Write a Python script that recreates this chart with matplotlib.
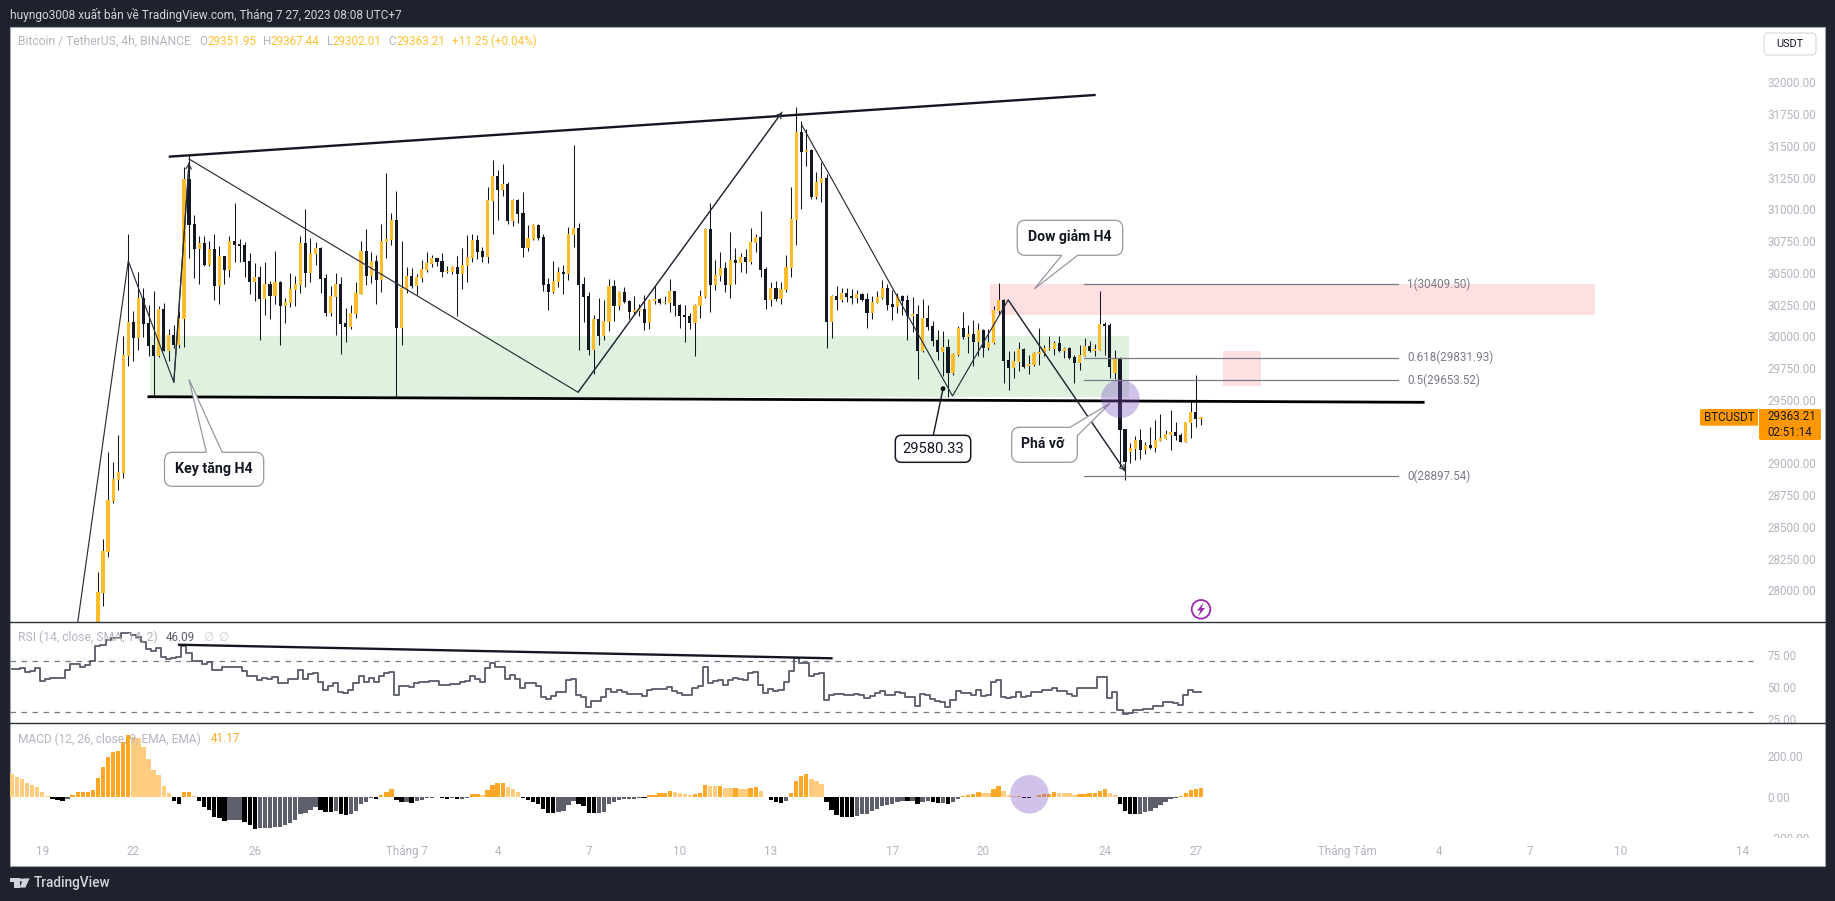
import matplotlib
matplotlib.use('Agg')
import matplotlib.pyplot as plt
import numpy as np
from matplotlib.patches import Circle, PathPatch, Polygon, Rectangle
from matplotlib.path import Path
from matplotlib.transforms import Affine2D, Bbox

plt.rcParams['font.family'] = ['Roboto', 'Noto Sans', 'DejaVu Sans']

W, H = 1835, 901

# candles, first visible one is bar 11 (bar 0 = 19 Jun 03:00 UTC+7)
first_bar = 11
bar_open = [
    27600, 27981, 28304, 28703, 28868, 28921, 29847, 30112, 29989, 30301,
    30104, 29931, 29847, 30215, 29884, 30010, 29931, 30136, 31238, 30884,
    30687, 30734, 30561, 30687, 30396, 30632, 30522, 30750, 30727, 30719,
    30593, 30427, 30467, 30293, 30412, 30317, 30427, 30238, 30262, 30364,
    30404, 30734, 30498, 30648, 30695, 30459, 30183, 30309, 30412, 30104,
    30073, 30175, 30333, 30671, 30475, 30593, 30443, 30742, 30758, 30916,
    30065, 30372, 30475, 30396, 30459, 30522, 30569, 30616, 30593, 30506,
    30506, 30545, 30490, 30553, 30616, 30758, 30671, 30624, 31065, 31262,
    31152, 31199, 30908, 31073, 30971, 30695, 30766, 30876, 30782, 30412,
    30349, 30427, 30506, 30490, 30797, 30852, 30412, 30317, 29892, 30136,
    30002, 30112, 30396, 30238, 30349, 30278, 30191, 30199, 30215, 30104,
    30278, 30293, 30262, 30262, 30356, 30246, 30167, 30159, 30107, 30238,
    30309, 30845, 30404, 30474, 30537, 30404, 30600, 30577, 30624, 30585,
    30734, 30782, 30530, 30286, 30380, 30293, 30364, 30537, 30916, 31608,
    31451, 31467, 31097, 31207, 31246, 30112, 30317, 30286, 30341, 30317,
    30301, 30333, 30293, 30183, 30262, 30301, 30380, 30254, 30230, 30317,
    30286, 30159, 30175, 29884, 30144, 30081, 29971, 29876, 29915, 29711,
    29853, 30065, 29994, 30018, 29955, 30049, 29908, 29947, 30199, 30286,
    29813, 29750, 29797, 29900, 29766, 29774, 29860, 29868, 29900, 29900,
    29947, 29884, 29908, 29837, 29790, 29845, 29923, 29884, 29892, 30097,
    30089, 29711, 29829, 29270, 29089, 29112, 29183, 29104, 29144, 29120,
    29175, 29191, 29223, 29246, 29223, 29167, 29317, 29404, 29352]
bar_high = [
    28146, 28404, 29089, 29007, 29223, 30005, 30805, 30199, 30506, 30377,
    30246, 30356, 30238, 30259, 30057, 30089, 30199, 31330, 31427, 30955,
    30790, 30790, 30750, 30805, 30711, 30632, 30790, 31049, 30766, 30742,
    30656, 30577, 30553, 30585, 30435, 30671, 30435, 30301, 30498, 30475,
    30790, 31002, 30774, 30742, 30703, 30490, 30396, 30498, 30467, 30223,
    30246, 30427, 30750, 30845, 30663, 30640, 30884, 31286, 30971, 31144,
    30750, 30545, 30538, 30490, 30601, 30663, 30640, 30616, 30656, 30553,
    30553, 30632, 30695, 30797, 30805, 30797, 30703, 31175, 31388, 31309,
    31357, 31215, 31081, 31081, 31136, 30876, 30884, 30884, 30805, 30459,
    30593, 30545, 30561, 30860, 31506, 30892, 30467, 30349, 30167, 30301,
    30286, 30451, 30443, 30356, 30388, 30286, 30317, 30254, 30325, 30293,
    30404, 30301, 30317, 30451, 30356, 30254, 30246, 30180, 30254, 30364,
    30850, 31049, 30600, 30663, 30585, 30821, 30695, 30656, 30687, 30852,
    30805, 30986, 30545, 30427, 30435, 30427, 30640, 31175, 31805, 31695,
    31632, 31475, 31293, 31372, 31278, 30325, 30396, 30380, 30380, 30372,
    30364, 30341, 30341, 30317, 30356, 30443, 30411, 30364, 30341, 30325,
    30325, 30309, 30246, 30293, 30246, 30120, 30049, 30041, 29976, 29866,
    30084, 30191, 30089, 30128, 30104, 30057, 30057, 30238, 30417, 30291,
    29884, 29884, 29955, 29908, 29853, 29876, 30065, 29931, 30002, 29963,
    30002, 29913, 29916, 29853, 29931, 29986, 29963, 29939, 30357, 30115,
    30104, 29892, 29834, 29270, 29159, 29215, 29270, 29167, 29285, 29341,
    29388, 29262, 29419, 29325, 29236, 29325, 29498, 29695, 29367]
bar_low = [
    27500, 27878, 28264, 28690, 28789, 28881, 29766, 29808, 29892, 29997,
    29847, 29524, 29834, 29884, 29808, 29905, 29905, 29918, 30619, 30459,
    30412, 30553, 30553, 30286, 30254, 30412, 30467, 30585, 30585, 30467,
    30333, 30278, 29971, 30167, 30136, 30254, 29931, 30104, 30230, 30238,
    30341, 30388, 30427, 30561, 30341, 30159, 30159, 30010, 29860, 29955,
    30057, 30144, 30333, 30404, 30422, 30254, 30348, 30616, 30719, 29511,
    29931, 30341, 30380, 30325, 30427, 30506, 30545, 30553, 30467, 30498,
    30490, 30159, 30372, 30427, 30585, 30608, 30585, 30577, 30805, 30916,
    31105, 30884, 30868, 30892, 30624, 30671, 30758, 30758, 30356, 30207,
    30341, 30388, 30333, 30443, 30703, 29892, 30112, 29852, 29703, 29931,
    29971, 30041, 30120, 30207, 30262, 30136, 30167, 30159, 30049, 30057,
    30254, 30254, 30254, 30191, 30159, 30065, 29955, 30054, 29842, 30144,
    30304, 30191, 30364, 30435, 30348, 30301, 30412, 30506, 30498, 30569,
    30664, 30467, 30215, 30238, 30278, 30254, 30348, 30467, 30719, 31002,
    31341, 31081, 31081, 31057, 29908, 29986, 30207, 30270, 30270, 30254,
    30262, 30278, 30065, 30136, 30259, 30293, 30207, 30128, 30183, 30167,
    29970, 30033, 29663, 29879, 30049, 29923, 29813, 29687, 29519, 29695,
    29845, 29978, 29868, 29766, 29845, 29837, 29892, 29939, 30167, 29632,
    29577, 29671, 29727, 29750, 29703, 29766, 29774, 29845, 29892, 29853,
    29876, 29829, 29821, 29632, 29734, 29845, 29879, 29845, 29892, 29853,
    29671, 29664, 28973, 28868, 29002, 29026, 29034, 29073, 29112, 29089,
    29175, 29191, 29104, 29183, 29167, 29167, 29199, 29285, 29302]
bar_close = [
    27989, 28312, 28711, 28876, 28931, 29853, 30112, 29989, 30301, 30099,
    29923, 29847, 30215, 29884, 30010, 29931, 30144, 31238, 30876, 30687,
    30734, 30561, 30687, 30396, 30632, 30522, 30750, 30719, 30711, 30585,
    30427, 30467, 30293, 30412, 30317, 30427, 30238, 30270, 30372, 30412,
    30734, 30498, 30656, 30695, 30451, 30183, 30317, 30412, 30096, 30073,
    30183, 30341, 30671, 30475, 30593, 30443, 30750, 30766, 30916, 30065,
    30380, 30475, 30396, 30467, 30530, 30577, 30616, 30585, 30506, 30514,
    30545, 30490, 30561, 30624, 30758, 30664, 30624, 31073, 31262, 31152,
    31199, 30908, 31073, 30963, 30695, 30774, 30876, 30774, 30404, 30349,
    30435, 30506, 30490, 30805, 30852, 30404, 30309, 29892, 30136, 30002,
    30120, 30396, 30238, 30349, 30270, 30191, 30207, 30215, 30104, 30286,
    30293, 30262, 30270, 30356, 30238, 30159, 30152, 30107, 30246, 30317,
    30845, 30404, 30482, 30537, 30404, 30600, 30577, 30624, 30585, 30742,
    30782, 30522, 30286, 30380, 30293, 30372, 30545, 30923, 31608, 31451,
    31467, 31097, 31215, 31246, 30112, 30317, 30286, 30341, 30309, 30301,
    30333, 30286, 30183, 30270, 30309, 30380, 30246, 30230, 30317, 30278,
    30159, 30175, 29884, 30144, 30073, 29963, 29876, 29915, 29713, 29860,
    30065, 29994, 30018, 29955, 30049, 29908, 29955, 30207, 30286, 29805,
    29750, 29805, 29900, 29758, 29782, 29868, 29876, 29908, 29908, 29947,
    29884, 29908, 29829, 29790, 29853, 29923, 29884, 29900, 30097, 30081,
    29758, 29829, 29262, 29010, 29120, 29183, 29104, 29144, 29120, 29183,
    29199, 29230, 29246, 29215, 29167, 29325, 29404, 29349, 29363]

# indicators start at bar -6, left edge of the chart
first_ind = -6
rsi_values = [
    63.8, 63.8, 64.5, 61.7, 62.5, 64.8, 54.7, 56.2, 56.8, 56.8, 56.8, 63.0,
    67.4, 67.9, 65.6, 66.9, 70.2, 81.6, 82.6, 86.3, 87.6, 87.6, 91.5, 92.0,
    90.2, 88.9, 85.0, 79.0, 78.0, 80.3, 72.8, 71.8, 72.0, 72.8, 81.6, 75.9,
    70.2, 70.2, 67.4, 69.4, 63.0, 63.0, 65.6, 65.0, 65.0, 65.0, 62.2, 58.6,
    58.6, 55.2, 56.5, 55.7, 57.3, 53.1, 53.1, 55.7, 55.7, 63.0, 56.0, 59.6,
    60.4, 53.9, 47.5, 50.8, 53.1, 46.2, 45.4, 47.5, 52.6, 58.6, 53.9, 57.0,
    53.4, 58.3, 60.4, 61.7, 43.6, 50.6, 50.6, 50.0, 52.6, 53.4, 53.4, 54.2,
    54.2, 51.3, 51.3, 52.1, 52.1, 53.9, 54.4, 58.3, 55.7, 53.9, 64.3, 68.7,
    65.0, 65.0, 56.0, 59.1, 55.7, 49.3, 52.6, 52.6, 50.8, 42.3, 40.5, 42.8,
    45.6, 45.6, 55.2, 55.7, 43.6, 41.8, 34.5, 38.9, 38.9, 41.8, 48.2, 45.6,
    47.5, 46.2, 44.3, 44.3, 44.3, 42.8, 47.5, 48.5, 48.0, 48.0, 49.8, 46.9,
    44.9, 43.3, 43.3, 48.7, 50.8, 65.6, 52.6, 54.4, 55.2, 51.3, 55.2, 56.5,
    55.7, 55.2, 60.4, 61.2, 51.3, 45.4, 48.0, 46.7, 47.5, 53.9, 62.5, 72.0,
    68.2, 68.2, 58.3, 59.9, 60.9, 39.7, 43.6, 44.1, 44.3, 43.6, 43.6, 44.3,
    43.6, 41.5, 43.1, 45.4, 46.9, 43.6, 43.6, 46.2, 45.4, 42.3, 42.3, 35.0,
    44.3, 43.6, 40.2, 38.9, 38.4, 34.5, 39.7, 46.9, 45.4, 45.4, 43.6, 47.5,
    42.8, 43.6, 53.9, 55.2, 41.8, 41.5, 42.3, 46.2, 42.3, 42.8, 46.2, 46.2,
    47.5, 47.5, 48.7, 46.9, 46.9, 44.3, 42.8, 48.7, 48.7, 48.7, 48.7, 57.8,
    57.3, 41.0, 46.2, 31.9, 28.8, 29.9, 31.9, 31.9, 32.7, 32.7, 35.0, 35.0,
    38.1, 38.1, 37.1, 35.8, 43.6, 47.5, 46.2, 46.09]
macd_hist = [
    110.8, 97.8, 86.4, 68.5, 55.4, 47.3, 24.5, 4.9, -11.4, -16.3, -21.2,
    -11.4, 8.2, 22.8, 23.0, 23.5, 32.6, 91.3, 145, 194, 220, 225, 266, 302,
    290, 285, 243, 184, 130, 106, 52, 18, -21, -36, 23, 24, 5, -21, -51, -65,
    -99, -104, -119, -114, -113, -112, -124, -139, -158, -153, -152, -151,
    -147, -146, -139, -127, -114, -86, -78, -64, -52, -65, -75, -76, -70, -85,
    -90, -85, -68, -36, -26, -8, -10, 11, 21, 37.5, -18, -26, -25, -31, -23,
    -18, -8, -5, -3, -5, -10, -8, -11, -10, -5, 13, 14, 8, 33, 57, 67, 68, 47,
    37, 21, -5, -16, -26, -33, -60, -80, -81, -75, -70, -41, -21, -36, -46,
    -80, -81, -80, -75, -36, -24, -16, -11, -10, -9, -6, -7, 6.5, 11, 18, 19,
    28, 23, 18, 13, 8, 13, 18, 57, 53, 52, 53, 42, 41, 41, 40, 38, 42, 47, 28,
    -2, -16, -26, -31, -21, 18, 77, 101, 111, 86, 77, 62, -26, -65, -90, -99,
    -100, -101, -95, -85, -84, -70, -60, -46, -41, -36, -26, -21, -22, -21,
    -36, -26, -21, -26, -31, -30, -36, -26, -11, 3, 8, 13, 23, 18, 17, 37, 52,
    28, 8, 3, 5, -7, -8, -2, 8, 13, 14, 23, 18, 17, 16, 8, 13, 14, 18, 19, 28,
    37, 18, 8, -36, -70, -85, -86, -84, -75, -70, -55, -41, -26, -11, -6, 5,
    18, 33, 37, 41.17]

# time axis, tick at the first bar of the day
date_bars = [0, 18, 42, 72, 90, 108, 126, 144, 168, 186, 210, 228,
             258, 276, 294, 312, 336]
date_labels = ['19', '22', '26', 'Tháng 7', '4', '7', '10', '13', '17', '20',
               '24', '27', 'Tháng Tám', '4', '7', '10', '14']
price_ticks = [28000 + 250 * k for k in range(17)]
rsi_ticks = [25, 50, 75]
macd_ticks = [-200, 0, 200]

# drawings on the price chart: (bar, price)
top_trend = [(25.0, 31414), (208.2, 31900)]
bottom_trend = [(20.8, 29524), (273.2, 29480)]
zigzag_a = [(7.0, 27745), (17.0, 30593), (26.0, 29638), (29.0, 31365)]
zigzag_b = [(29.0, 31396), (105.9, 29559), (146.2, 31764)]
zigzag_c = [(150.1, 31664), (179.9, 29530), (190.9, 30286), (214.0, 28939)]
fib_levels = [30409.50, 29831.93, 29653.52, 28897.54]
fib_names = ['1', '0.618', '0.5', '0']
rsi_trend = [(26.8, 82.6), (156.2, 72.05)]

DARK = '#1E222D'
INK = '#131722'
UP = '#FDBC2C'
GREY = '#B2B5BE'
TAG = '#FF9800'

# pixel coords of the reference, y going down
PX = Affine2D().scale(1, -1).translate(0, H)


def pane(x0, y0, x1, y1):
    ax = fig.add_axes([x0 / W, 1 - y1 / H, (x1 - x0) / W, (y1 - y0) / H])
    ax.set_facecolor('none')
    for s in ax.spines.values():
        s.set_visible(False)
    ax.yaxis.tick_right()
    ax.tick_params(length=0, labelsize=8.4, labelcolor=GREY, pad=8)
    ax.set_xlim(-6.38, 338.7)
    ax.set_xticks([])
    return ax


def round_poly(pts, radii):
    verts, codes = [], []
    n = len(pts)
    for k in range(n):
        p = np.array(pts[k], float)
        r = radii[k]
        if r == 0:
            verts.append(p)
            codes.append(Path.LINETO)
            continue
        a = np.array(pts[k - 1], float) - p
        b = np.array(pts[(k + 1) % n], float) - p
        verts += [p + a / np.hypot(*a) * r, p, p + b / np.hypot(*b) * r]
        codes += [Path.LINETO, Path.CURVE3, Path.CURVE3]
    codes[0] = Path.MOVETO
    verts.append(verts[0])
    codes.append(Path.CLOSEPOLY)
    return Path(verts, codes)


def bubble(pts, radii, label, cx, cy, edge='#9598A1', lw=0.9, **kw):
    p = PathPatch(round_poly(pts, radii), fc='white', ec=edge, lw=lw,
                  transform=PX, zorder=8, clip_on=False)
    ax1.add_patch(p)
    ax1.text(cx, cy, label, transform=PX, ha='center', va='center', zorder=9,
             color=INK, **kw)


def figtext(x, y, s, **kw):
    kw.setdefault('va', 'center')
    kw.setdefault('fontsize', 8.4)
    fig.text(x / W, 1 - y / H, s, **kw)


fig = plt.figure(figsize=(W / 100, H / 100), dpi=100, facecolor=DARK)
fig.add_artist(Rectangle((10 / W, 1 - 865.5 / H), 1815 / W, 838.5 / H,
                         fc='white', ec='#A0A3AB', lw=0.8, zorder=-1,
                         transform=fig.transFigure))

ax1 = pane(10, 27, 1756, 622)
ax2 = pane(10, 622.3, 1756, 723.3)
ax3 = pane(10, 723.3, 1756, 837.7)

# price pane
ax1.set_ylim(27750.3, 32435)
ax1.set_yticks(price_ticks, ['%.2f' % v for v in price_ticks])
ax1.add_patch(Rectangle((21.3, 29524), 193.5, 478, fc='#DFF1DF', lw=0, zorder=1))
ax1.add_patch(Rectangle((187.3, 30170), 119.5, 242, fc='#FFE0E2', lw=0, zorder=1))
ax1.add_patch(Rectangle((233.3, 29609), 7.6, 275, fc='#FFE0E2', lw=0, zorder=1))

bars = np.arange(first_bar, first_bar + len(bar_close))
o, h, l, c = [np.array(v, float) for v in (bar_open, bar_high, bar_low, bar_close)]
colors = [UP if cc >= oo else INK for oo, cc in zip(o, c)]
ax1.vlines(bars, l, h, color=INK, lw=0.75, zorder=2)
ax1.bar(bars, np.abs(c - o), bottom=np.minimum(o, c), width=0.62, color=colors,
        lw=0, zorder=3)

for pts, lw in [(top_trend, 1.7), (bottom_trend, 2.0)]:
    xs, ys = zip(*pts)
    ax1.plot(xs, ys, color=INK if lw < 2 else 'black', lw=lw, zorder=5,
             solid_capstyle='butt')
for pts in (zigzag_a, zigzag_b, zigzag_c):
    xs, ys = zip(*pts)
    ax1.plot(xs, ys, color='#2A2E39', lw=0.85, zorder=5)
    ax1.annotate('', xy=pts[-1], xytext=pts[-2], zorder=5,
                 arrowprops=dict(arrowstyle='->,head_length=0.35,head_width=0.2',
                                 color='#2A2E39', lw=0.85, shrinkA=0, shrinkB=0))

for lev, name in zip(fib_levels, fib_names):
    ax1.plot([205.9, 268.0], [lev, lev], color='#787B86', lw=0.9, zorder=4)
    ax1.text(269.8, lev, '%s(%.2f)' % (name, lev), color='#787B86', fontsize=8.4,
             va='center', ha='left', zorder=6)

# callouts
bubble([(172.5, 452.3), (206.4, 452.3), (189, 379.3), (222.2, 452.3),
        (263.7, 452.3), (263.7, 486.3), (164.5, 486.3), (164.5, 452.3)],
       [0, 0, 0, 0, 8, 8, 8, 8], 'Key tăng H4', 214, 469.3,
       fontsize=10.2, fontweight='bold')
bubble([(1017.2, 220.3), (1122.7, 220.3), (1122.7, 255.3), (1077.7, 255.3),
        (1034.2, 289), (1061.8, 255.3), (1017.2, 255.3)],
       [8, 8, 8, 0, 0, 0, 8], 'Dow giảm H4', 1069.5, 237,
       fontsize=10.1, fontweight='bold')
bubble([(1011.7, 427.3), (1070, 427.3), (1110, 403.3), (1077.3, 435.7),
        (1077.3, 462.3), (1011.7, 462.3)],
       [8, 0, 0, 0, 8, 8], 'Phá vỡ', 1043, 444.5,
       fontsize=10.1, fontweight='bold')
ax1.plot([933.3, 943], [435.3, 388.7], color=INK, lw=1.0, transform=PX, zorder=7)
ax1.add_patch(Circle((943, 388.7), 2.4, fc='black', lw=0, transform=PX, zorder=7))
bubble([(895.3, 435.3), (970.7, 435.3), (970.7, 462.3), (895.3, 462.3)],
       [6, 6, 6, 6], '29580.33', 933, 449, edge=INK, lw=1.1, fontsize=10.6)

# price tags and the earnings icon
ax1.add_patch(Circle((1201, 609.3), 9.3, fc='white', ec='#9C27B0', lw=1.3,
                     transform=PX, zorder=6))
ax1.add_patch(Polygon([(1204, 602), (1197, 610.5), (1200.5, 610.5), (1198, 616.5),
                       (1205, 608), (1201.5, 608)], fc='#9C27B0', lw=0,
                      transform=PX, zorder=7))

# rsi pane
ax2.set_ylim(21.6, 100)
ax2.set_yticks(rsi_ticks, ['%.2f' % v for v in rsi_ticks])
for lev in (70, 30):
    ax2.plot([-6.38, 338.2], [lev, lev], color='#787B86', lw=0.9,
             dashes=(4.4, 4.4), zorder=1)
rsi_x = np.arange(first_ind, first_ind + len(rsi_values))
ax2.step(rsi_x, rsi_values, where='mid', color='#5D606B', lw=1.35, zorder=2)
xs, ys = zip(*rsi_trend)
ax2.plot(xs, ys, color=INK, lw=1.7, zorder=3, solid_capstyle='butt')

# macd pane, colours follow rising/falling histogram
ax3.set_ylim(-200, 359)
ax3.set_yticks(macd_ticks, ['\u2212200.00', '0.00', '200.00'])
hist = np.array(macd_hist, float)
prev = np.r_[hist[0] + 1, hist[:-1]]
hist_colors = []
for now, before in zip(hist, prev):
    if now >= 0:
        hist_colors.append('#FFA726' if now >= before else '#FFCC80')
    else:
        hist_colors.append('#000000' if now < before else '#5D606B')
macd_x = np.arange(first_ind, first_ind + len(hist))
ax3.bar(macd_x, hist, width=0.86, color=hist_colors, lw=0, zorder=2)
ax3.set_xticks(date_bars, date_labels)
ax3.tick_params(axis='x', pad=5.5, labelsize=8.4)
# tick label of -200 is cut by the time scale
clip = Bbox([[1756, H - 837.7], [1825, H - 723.3]])
for lab in ax3.get_yticklabels():
    lab.set_clip_box(clip)
    lab.set_clip_on(True)

# highlight circles on top of everything
for cx, cy in [(1120.3, 398.7), (1029.4, 794.3)]:
    ax3.add_patch(Circle((cx, cy), 19.3, fc='#7E57C2', alpha=0.36, lw=0,
                         transform=PX, zorder=6, clip_on=False))

# pane separators
for y in (622.3, 723.3):
    fig.add_artist(plt.Line2D([10 / W, 1825 / W], [1 - y / H] * 2, color='#2A2E39',
                              lw=1.0))

# top and bottom strip
figtext(10, 15, 'huyngo3008 xuất bản về TradingView.com, Tháng 7 27, 2023 08:08 UTC+7',
        color='#D1D4DC', fontsize=8.6)
logo = [[(10, 878.4), (19.5, 878.4), (19.5, 887.6), (14.2, 887.6), (14.2, 881.8), (10, 881.8)],
        [(23.5, 878.4), (29.6, 878.4), (25.4, 887.6), (19.6, 887.6)]]
for pts in logo:
    fig.add_artist(Polygon(pts, fc='#D1D4DC', lw=0, transform=PX))
fig.add_artist(Circle((21.6, 880), 1.7, fc='#D1D4DC', lw=0, transform=PX))
figtext(33.6, 883.5, 'TradingView', color='#D1D4DC', fontsize=9.8, fontweight='medium')

# legends
figtext(18.2, 41.7, 'Bitcoin / TetherUS, 4h, BINANCE', color=GREY, fontsize=8.7)
for x, s in [(199.7, 'O'), (263, 'H'), (327, 'L'), (388.3, 'C')]:
    figtext(x, 41.7, s, color=GREY)
for x, s in [(207.6, '29351.95'), (270.9, '29367.44'), (332.5, '29302.01'),
             (396.2, '29363.21'), (451.6, '+11.25 (+0.04%)')]:
    figtext(x, 41.7, s, color='#FFC233')
figtext(18.2, 637.3, 'RSI (14, close, SMA, 14, 2)', color=GREY, fontsize=8.7)
figtext(166, 637.3, '46.09', color='#5D606B')
figtext(203.6, 637.3, '\u2205', color='#C9CBD2')
figtext(218.3, 637.3, '\u2205', color='#C9CBD2')
figtext(18.2, 739, 'MACD (12, 26, close, 9, EMA, EMA)', color=GREY, fontsize=8.6)
figtext(210.8, 739, '41.17', color='#FFA726')

# right side tags
fig.add_artist(PathPatch(round_poly([(1764, 33), (1816, 33), (1816, 55), (1764, 55)],
                                    [4, 4, 4, 4]), fc='white', ec='#D6D8DE', lw=0.8,
                         transform=PX))
figtext(1790, 44, 'USDT', color=INK, ha='center', fontsize=7.8)
fig.add_artist(PathPatch(round_poly([(1700, 409), (1758, 409), (1758, 425.7), (1700, 425.7)],
                                    [2, 0, 0, 2]), fc=TAG, lw=0, transform=PX))
fig.add_artist(PathPatch(round_poly([(1759, 409), (1821, 409), (1821, 440), (1759, 440)],
                                    [0, 2, 2, 2]), fc=TAG, lw=0, transform=PX))
figtext(1729, 417.5, 'BTCUSDT', color=INK, ha='center')
figtext(1767, 416.8, '29363.21', color=INK)
figtext(1767, 432.5, '02:51:14', color=INK)

fig.savefig('out.png', dpi=100, facecolor=DARK)
